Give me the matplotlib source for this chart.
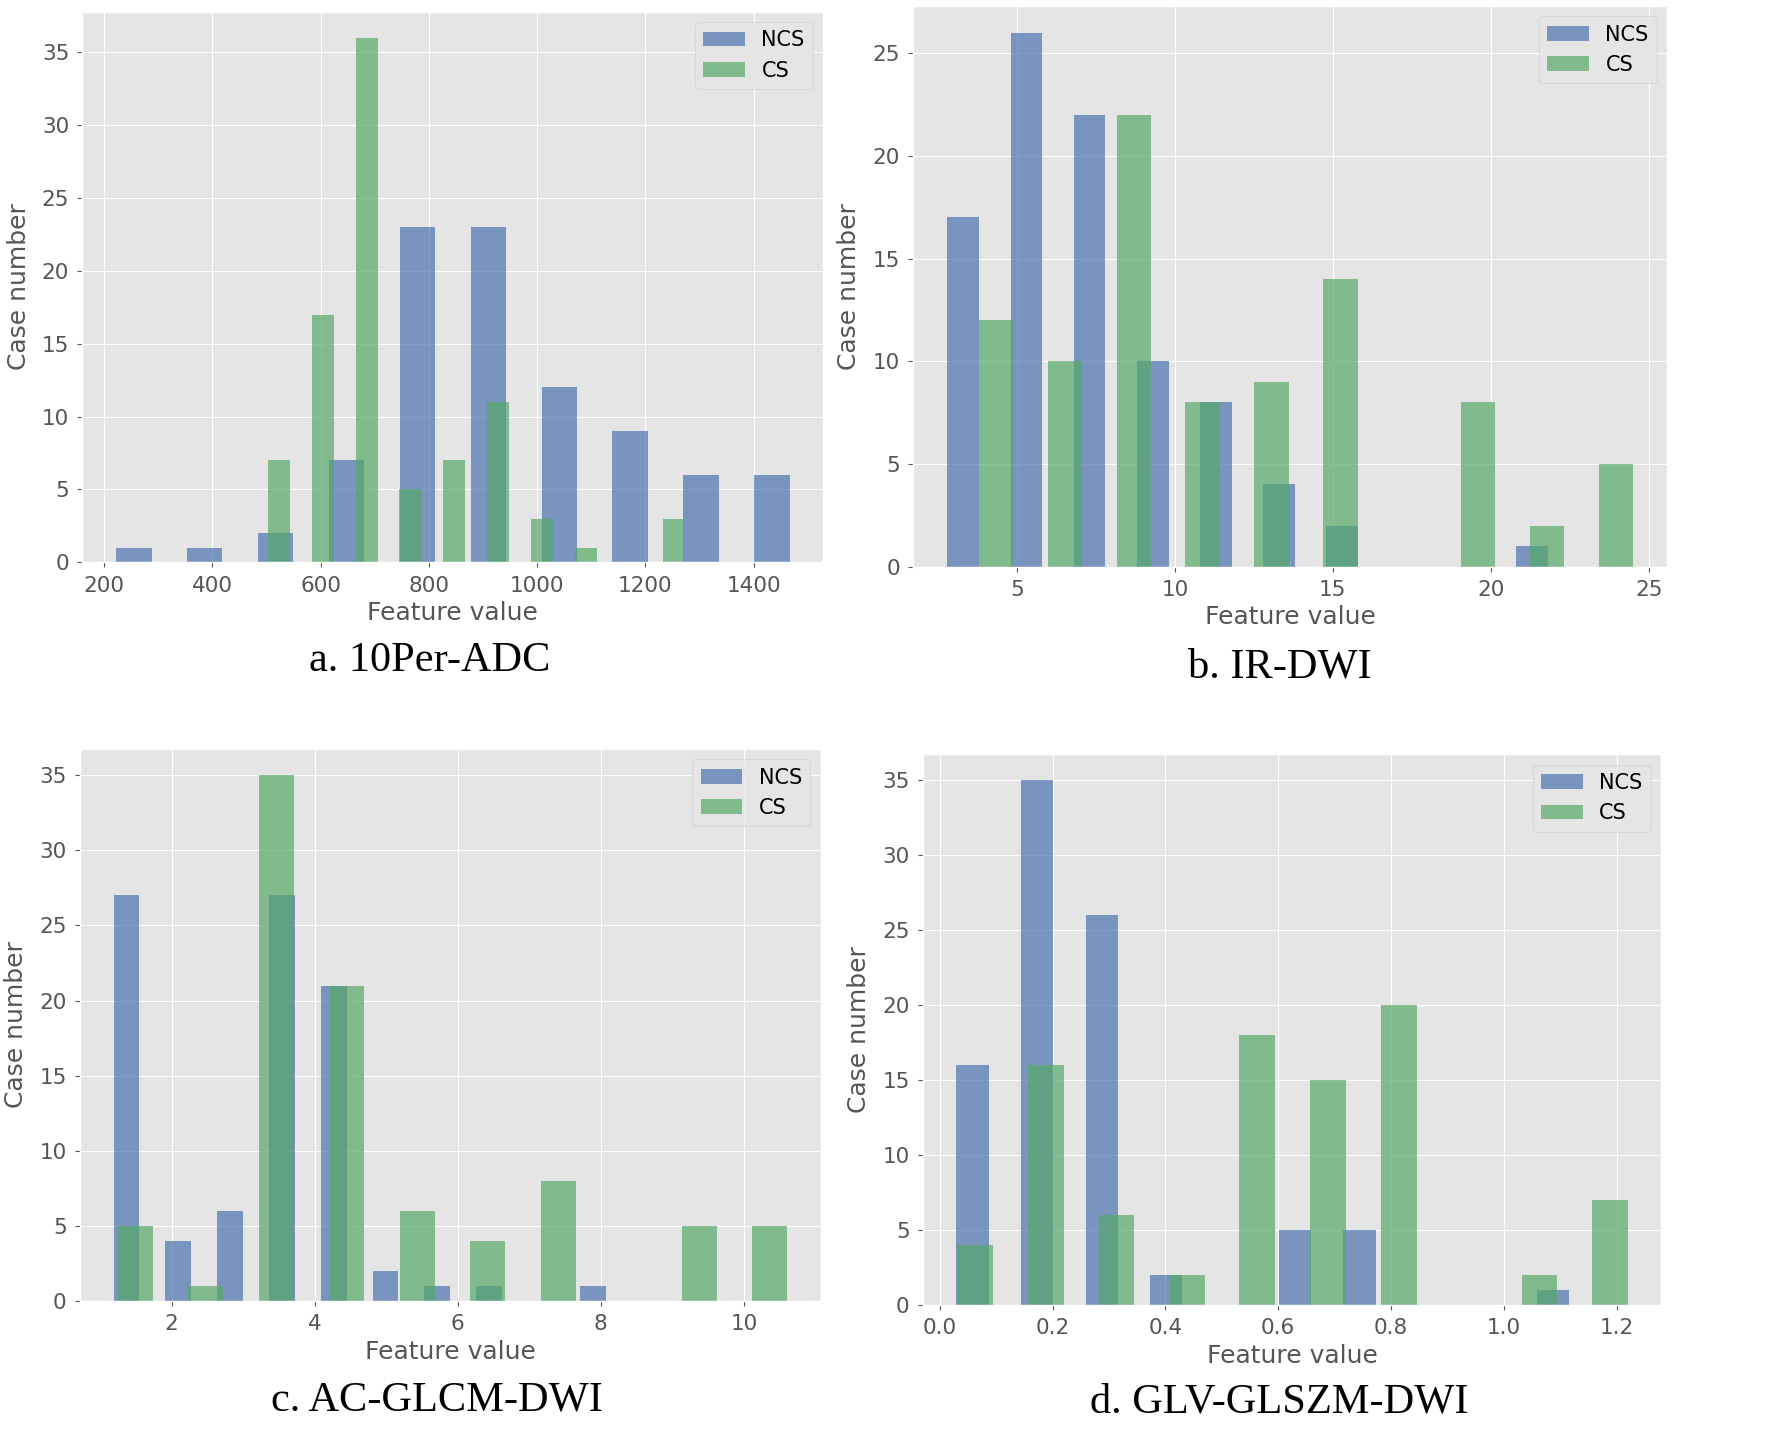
import numpy as np
import matplotlib
matplotlib.use("Agg")
from matplotlib import pyplot as plt

# a. 10Per-ADC
a_ncs_x = [255, 386, 517, 648, 779, 910, 1041, 1172, 1303, 1434]
a_ncs_n = [1, 1, 2, 7, 23, 23, 12, 9, 6, 6]
a_cs_x = [523, 604, 685, 766, 847, 928, 1009, 1090, 1171, 1252]
a_cs_n = [7, 17, 36, 5, 7, 11, 3, 1, 0, 3]

# b. IR-DWI
b_ncs_x = [3.3, 5.3, 7.3, 9.3, 11.3, 13.3, 15.3, 17.3, 19.3, 21.3]
b_ncs_n = [17, 26, 22, 10, 8, 4, 2, 0, 0, 1]
b_cs_x = [4.34, 6.52, 8.70, 10.88, 13.06, 15.24, 17.42, 19.60, 21.78, 23.96]
b_cs_n = [12, 10, 22, 8, 9, 14, 0, 8, 2, 5]

# c. AC-GLCM-DWI
c_ncs_x = [1.37, 2.09, 2.82, 3.54, 4.27, 4.99, 5.71, 6.44, 7.16, 7.89]
c_ncs_n = [27, 4, 6, 27, 21, 2, 1, 1, 0, 1]
c_cs_x = [1.50, 2.48, 3.47, 4.45, 5.44, 6.42, 7.41, 8.39, 9.38, 10.36]
c_cs_n = [5, 1, 35, 21, 6, 4, 8, 0, 5, 5]

# d. GLV-GLSZM-DWI
d_ncs_x = [0.058, 0.172, 0.287, 0.401, 0.515, 0.630, 0.744, 0.858, 0.972, 1.087]
d_ncs_n = [16, 35, 26, 2, 0, 5, 5, 0, 0, 1]
d_cs_x = [0.062, 0.188, 0.313, 0.438, 0.562, 0.688, 0.814, 0.939, 1.063, 1.188]
d_cs_n = [4, 16, 6, 2, 18, 15, 20, 0, 2, 7]

captions = ["a. 10Per-ADC", "b. IR-DWI", "c. AC-GLCM-DWI", "d. GLV-GLSZM-DWI"]

BLUE = "#4C72B0"
GREEN = "#55A868"

plt.style.use("ggplot")


def plot_hist(ax, ncs_x, ncs_n, cs_x, cs_n):
    # bars are half a bin wide, like hist(rwidth=0.5)
    w_ncs = 0.5 * (ncs_x[1] - ncs_x[0])
    w_cs = 0.5 * (cs_x[1] - cs_x[0])
    ax.bar(ncs_x, ncs_n, width=w_ncs, color=BLUE, alpha=0.7, label="NCS")
    ax.bar(cs_x, cs_n, width=w_cs, color=GREEN, alpha=0.7, label="CS")
    ax.set_xlabel("Feature value", fontsize=18, color="#555555")
    ax.set_ylabel("Case number", fontsize=18, color="#555555", labelpad=8)
    ax.tick_params(labelsize=15.5, colors="#555555", pad=6)
    ax.legend(loc="upper right", fontsize=15)


fig = plt.figure(figsize=(17.92, 14.53), dpi=100)
fig.patch.set_facecolor("white")

rects = [
    [0.046, 0.613, 0.4135, 0.379],
    [0.5095, 0.610, 0.421, 0.386],
    [0.0446, 0.1046, 0.4135, 0.380],
    [0.515, 0.102, 0.412, 0.379],
]
data = [
    (a_ncs_x, a_ncs_n, a_cs_x, a_cs_n),
    (b_ncs_x, b_ncs_n, b_cs_x, b_cs_n),
    (c_ncs_x, c_ncs_n, c_cs_x, c_cs_n),
    (d_ncs_x, d_ncs_n, d_cs_x, d_cs_n),
]
for rect, d in zip(rects, data):
    ax = fig.add_axes(rect)
    plot_hist(ax, *d)

cap_pos = [(0.240, 0.545), (0.714, 0.541), (0.244, 0.0365), (0.714, 0.035)]
for (x, y), txt in zip(cap_pos, captions):
    fig.text(x, y, txt, ha="center", va="center", fontsize=30.5,
             family="Liberation Serif", color="black")

fig.savefig("out.png", dpi=100)
